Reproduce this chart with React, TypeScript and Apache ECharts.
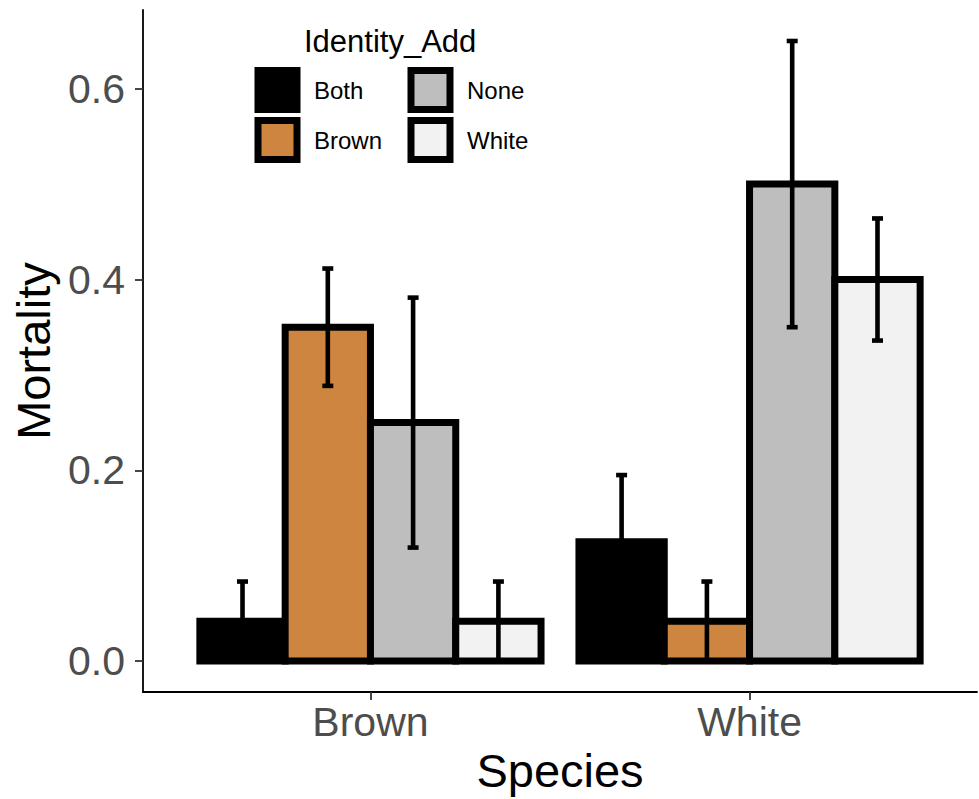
import React, { useEffect, useRef } from "react";
import * as echarts from "echarts";

// Categories on the x axis and the fill groups (Identity_Add)
const species = ["Brown", "White"];
const groups = ["Both", "Brown", "None", "White"];
const groupColors = ["#000000", "#CD853F", "#BEBEBE", "#F2F2F2"];

// Mean mortality per group, one value per species (Brown, White)
const mortalityBoth = [0.0417, 0.125];
const mortalityBrown = [0.35, 0.0417];
const mortalityNone = [0.25, 0.5];
const mortalityWhite = [0.0417, 0.4];

// Standard errors, same layout
const seBoth = [0.0417, 0.07];
const seBrown = [0.0615, 0.0417];
const seNone = [0.131, 0.15];
const seWhite = [0.0417, 0.064];

const yTicks = [0, 0.2, 0.4, 0.6];

const means = [mortalityBoth, mortalityBrown, mortalityNone, mortalityWhite];
const errors = [seBoth, seBrown, seNone, seWhite];

const FONT = "'Liberation Sans', Arial, Helvetica, sans-serif";
const DODGE = 0.225; // width of one dodged bar in category units
const CAP_HALF = 0.0145; // half width of the error-bar caps

export default function App() {
  const ref = useRef<HTMLDivElement>(null);

  useEffect(() => {
    if (!ref.current) return;
    const chart = echarts.init(ref.current, null, { renderer: "svg" });

    const barSeries = groups.map((g, gi) => ({
      name: g,
      type: "custom",
      data: species.map((_, si) => [si + 1, means[gi][si]]),
      encode: { x: 0, y: 1 },
      clip: false,
      z: 2,
      renderItem: (_params: any, api: any) => {
        const cx = api.value(0) + (gi - 1.5) * DODGE;
        const v = api.value(1);
        const p0 = api.coord([cx - DODGE / 2, v]);
        const p1 = api.coord([cx + DODGE / 2, 0]);
        return {
          type: "rect",
          shape: { x: p0[0], y: p0[1], width: p1[0] - p0[0], height: p1[1] - p0[1] },
          style: { fill: groupColors[gi], stroke: "#000", lineWidth: 7 },
        };
      },
    }));

    const errorData: number[][] = [];
    groups.forEach((_, gi) =>
      species.forEach((__, si) => errorData.push([si + 1, gi, means[gi][si], errors[gi][si]]))
    );

    const errorSeries = {
      name: "se",
      type: "custom",
      data: errorData,
      encode: { x: 0, y: 2 },
      clip: false,
      z: 5,
      renderItem: (_params: any, api: any) => {
        const cx = api.value(0) + (api.value(1) - 1.5) * DODGE;
        const m = api.value(2);
        const se = api.value(3);
        const top = api.coord([cx, m + se]);
        const bot = api.coord([cx, m - se]);
        const l = api.coord([cx - CAP_HALF, m])[0];
        const r = api.coord([cx + CAP_HALF, m])[0];
        const style = { stroke: "#000", lineWidth: 4.6, lineCap: "butt" };
        return {
          type: "group",
          children: [
            { type: "line", shape: { x1: top[0], y1: top[1], x2: bot[0], y2: bot[1] }, style },
            { type: "line", shape: { x1: l, y1: top[1], x2: r, y2: top[1] }, style },
            { type: "line", shape: { x1: l, y1: bot[1], x2: r, y2: bot[1] }, style },
          ],
        };
      },
    };

    const legendItem = (gi: number) => ({
      name: groups[gi],
      itemStyle: { color: groupColors[gi], borderColor: "#000", borderWidth: 7 },
    });
    const legendBase = {
      orient: "vertical",
      top: 67,
      padding: 0,
      itemWidth: 39,
      itemHeight: 39,
      itemGap: 4,
      icon: "rect",
      selectedMode: false,
      textStyle: { fontSize: 24, color: "#000", fontFamily: FONT, padding: [4, 0, 0, 12] },
    };

    chart.setOption({
      animation: false,
      backgroundColor: "#fff",
      textStyle: { fontFamily: FONT },
      title: {
        text: "Identity_Add",
        left: 304,
        top: 26,
        padding: 0,
        textStyle: { fontSize: 31, fontWeight: "normal", color: "#000", fontFamily: FONT },
      },
      legend: [
        { ...legendBase, left: 254.5, data: [legendItem(0), legendItem(1)] },
        { ...legendBase, left: 407.5, data: [legendItem(2), legendItem(3)] },
      ],
      grid: { left: 143, right: 2, top: 10, bottom: 106 },
      xAxis: {
        type: "value",
        min: 0.4,
        max: 2.6,
        name: "Species",
        nameLocation: "middle",
        nameGap: 54,
        nameTextStyle: { fontSize: 47, color: "#000", fontFamily: FONT },
        axisLine: { show: true, onZero: false, lineStyle: { color: "#000", width: 1.8 } },
        axisTick: { show: true, customValues: [1, 2], length: 8, lineStyle: { color: "#333", width: 1.8 } },
        axisLabel: {
          customValues: [1, 2],
          formatter: (v: number) => species[Math.round(v) - 1],
          fontSize: 41,
          color: "#4D4D4D",
          margin: 9,
          fontFamily: FONT,
        },
        splitLine: { show: false },
      },
      yAxis: {
        type: "value",
        min: -0.0325,
        max: 0.6825,
        name: "Mortality",
        nameLocation: "middle",
        nameGap: 80,
        nameTextStyle: { fontSize: 47, color: "#000", fontFamily: FONT },
        axisLine: { show: true, onZero: false, lineStyle: { color: "#000", width: 1.8 } },
        axisTick: { show: true, customValues: yTicks, length: 8, lineStyle: { color: "#333", width: 1.8 } },
        axisLabel: {
          customValues: yTicks,
          formatter: (v: number) => v.toFixed(1),
          fontSize: 41,
          color: "#4D4D4D",
          margin: 18,
          fontFamily: FONT,
        },
        splitLine: { show: false },
      },
      series: [...barSeries, errorSeries],
    });

    return () => chart.dispose();
  }, []);

  return (
    <div
      ref={ref}
      style={{ position: "fixed", left: 0, top: 0, width: 979, height: 799, background: "#fff" }}
    />
  );
}
